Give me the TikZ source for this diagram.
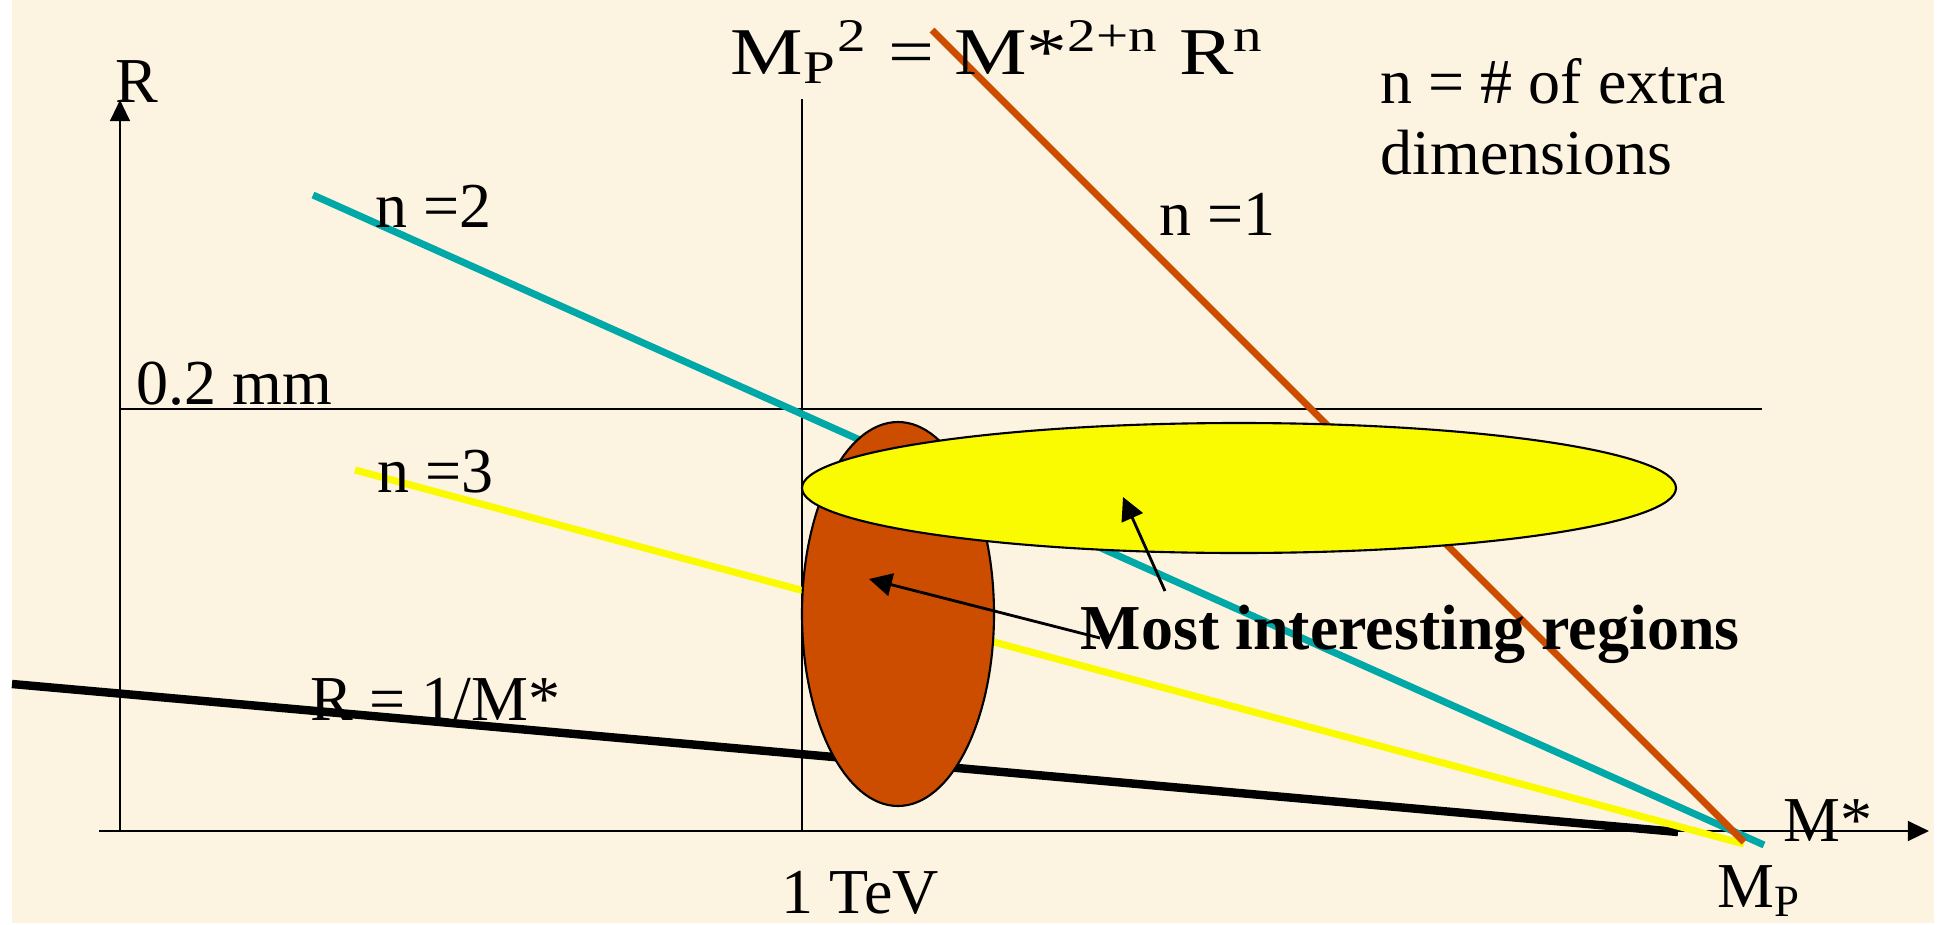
\documentclass[tikz,border=0pt]{standalone}
\usepackage{fontspec}
\setmainfont{Liberation Serif}
\usetikzlibrary{arrows.meta}
\definecolor{parch}{RGB}{252,243,225}
\definecolor{tealline}{RGB}{0,168,168}
\definecolor{rust}{RGB}{204,76,0}
\definecolor{lemon}{RGB}{250,250,0}
\begin{document}
\begin{tikzpicture}[x=.01cm,y=-.01cm,font=\fontsize{18.2}{20.2}\selectfont,
  txt/.style={anchor=base west,inner sep=0pt},
  axis/.style={line width=.7pt,-{Triangle[length=6pt,width=5.6pt]}},
  thin/.style={line width=.6pt},
  curve/.style={line width=2pt},
  callout/.style={line width=.8pt,-{Triangle[length=6.5pt,width=6.5pt]}}]
\useasboundingbox (0,0) rectangle (1939,924);
\fill[white] (0,0) rectangle (1939,924);
\fill[parch] (12,0) rectangle (1934,923);
% axes, 1 TeV and 0.2 mm marks
\coordinate (xstart) at (99,831);\coordinate (xtip) at (1929,831);
\coordinate (ybase) at (120,831);\coordinate (ytip) at (120,100);
\draw[axis] (xstart) -- (xtip);
\draw[axis] (ybase) -- (ytip);
\draw[thin] (802,99) coordinate (tevtop) -- (802,831) coordinate (tevbot);
\draw[thin] (120,409) coordinate (mmleft) -- (1762,409) coordinate (mmright);
% the four lines
\draw[curve,black,line width=2.4pt] (12,684) coordinate (inv1) -- (1678,832) coordinate (inv2);
\draw[curve,lemon] (355,470) coordinate (n3a) -- (1744,844) coordinate (n3b);
\draw[curve,tealline] (313,195) coordinate (n2a) -- (1764,845) coordinate (n2b);
\draw[curve,rust] (932,30) coordinate (n1a) -- (1744,842) coordinate (n1b);
% regions
\draw[thin,fill=rust] (898,614) coordinate (kk) ellipse [x radius=96,y radius=192];
\draw[thin,fill=lemon] (1239,488) coordinate (yy) ellipse [x radius=437,y radius=65];
% labels
\node[txt,font=\fontsize{19}{21}\selectfont] (title) at (730,74) {\scalebox{1.22}[1]{M\textsubscript{P}\textsuperscript{2} = M*\textsuperscript{2+n} R\textsuperscript{n}}};
\node[txt] (lblR) at (115,102) {R};
\node[txt] (lblM) at (1783,841) {M*};
\node[txt] (lblMP) at (1717,907) {M\textsubscript{P}};
\node[txt] (lbltev) at (781,913) {1 TeV};
\node[txt] (lblmm) at (136,404) {0.2 mm};
\node[txt] (lbln2) at (375,227) {n =2};
\node[txt] (lbln1) at (1159,235) {n =1};
\node[txt] (lbln3) at (377,492) {n =3};
\node[txt] (lblinv) at (310,720) {R = 1/M*};
\node[txt,align=left,anchor=north west] (lblextra) at (1380,58) {n = \# of extra\\dimensions};
\node[txt,font=\fontsize{18.2}{20.2}\selectfont\bfseries] (lblmost) at (1080,649) {Most interesting regions};
% pointers into the two regions
\coordinate (tailyel) at (1165,591);\coordinate (tipyel) at (1123,497);
\coordinate (tailora) at (1100,638);\coordinate (tipora) at (869,579);
\draw[callout] (tailyel) -- (tipyel);
\draw[callout] (tailora) -- (tipora);
\end{tikzpicture}
\end{document}
